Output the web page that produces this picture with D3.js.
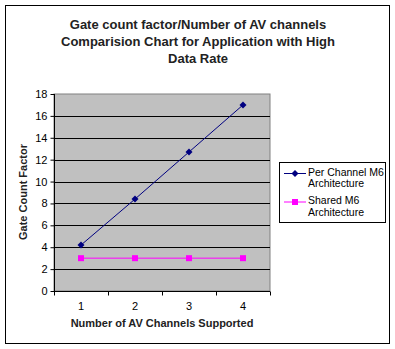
<!DOCTYPE html>
<html><head><meta charset="utf-8">
<script src="https://cdn.jsdelivr.net/npm/d3@7"></script>
<style>body{margin:0;background:#fff}svg{display:block}text{font-family:Arial,"Liberation Sans",sans-serif}</style>
</head><body><svg id="c" width="395" height="349"></svg>
<script>
const categories = ["1","2","3","4"];
const perChannel = [4.2, 8.4, 12.7, 17];
const shared = [3, 3, 3, 3];
const yTicks = [0,2,4,6,8,10,12,14,16,18];
const titleLines = ["Gate count factor/Number of AV channels","Comparision Chart for Application with High","Data Rate"];
const seriesNames = [["Per Channel M6","Architecture"],["Shared M6","Architecture"]];

const svg = d3.select("#c");
svg.append("rect").attr("x",5.5).attr("y",5.5).attr("width",384).attr("height",338).attr("fill","#fff").attr("stroke","#000");

const L=54,R=270,T=94,B=291;
const x = d3.scaleBand().domain(categories).range([L,R]);
const y = d3.scaleLinear().domain([0,18]).range([B,T]);

svg.append("g").selectAll("text").data(titleLines).join("text")
 .attr("x",198).attr("y",(d,i)=>29+i*17).attr("text-anchor","middle")
 .attr("font-size",13).attr("font-weight","bold").attr("fill","#222").text(d=>d);

svg.append("rect").attr("x",L).attr("y",T).attr("width",R-L).attr("height",B-T).attr("fill","#c0c0c0").attr("stroke","#808080");
svg.append("g").selectAll("line").data(yTicks.filter(d=>d>0&&d<18)).join("line")
 .attr("x1",L).attr("x2",R).attr("y1",d=>Math.round(y(d))+0.5).attr("y2",d=>Math.round(y(d))+0.5).attr("stroke","#000");

const ya = svg.append("g").attr("transform",`translate(${L+0.5},0)`)
 .call(d3.axisLeft(y).tickValues(yTicks).tickSize(4).tickPadding(3));
ya.select(".domain").attr("stroke","#000").attr("d",`M0,${T}V${B}`);
ya.selectAll("text").attr("font-size",11).attr("font-family","Arial").attr("fill","#000");

const xa = svg.append("g").attr("transform",`translate(0,${B+0.5})`);
xa.append("line").attr("x1",L).attr("x2",R).attr("stroke","#000");
xa.selectAll("line.t").data(categories.concat(["end"])).join("line").attr("class","t")
 .attr("x1",(d,i)=>Math.round(L+i*x.bandwidth())+0.5).attr("x2",(d,i)=>Math.round(L+i*x.bandwidth())+0.5)
 .attr("y1",0).attr("y2",4).attr("stroke","#000");
xa.selectAll("text").data(categories).join("text").attr("x",d=>x(d)+x.bandwidth()/2).attr("y",18)
 .attr("text-anchor","middle").attr("font-size",11).text(d=>d);

svg.append("text").attr("x",162).attr("y",327).attr("text-anchor","middle").attr("font-size",11).attr("font-weight","bold").attr("fill","#222").text("Number of AV Channels Supported");
svg.append("text").attr("transform","translate(27,192) rotate(-90)").attr("text-anchor","middle").attr("font-size",11).attr("font-weight","bold").attr("fill","#222").text("Gate Count Factor");

const diamond = "M0,-3.5L3.5,0L0,3.5L-3.5,0Z";
const cx = d=>x(d)+x.bandwidth()/2;
const line = d3.line().x((d,i)=>cx(categories[i])).y(d=>y(d));
svg.append("path").datum(shared).attr("d",line).attr("fill","none").attr("stroke","#ff00ff").attr("stroke-width",1);
svg.append("g").selectAll("rect").data(shared).join("rect")
 .attr("x",(d,i)=>cx(categories[i])-3).attr("y",d=>y(d)-3).attr("width",6).attr("height",6).attr("fill","#ff00ff");
svg.append("path").datum(perChannel).attr("d",line).attr("fill","none").attr("stroke","#000080").attr("stroke-width",1);
svg.append("g").selectAll("path.m").data(perChannel).join("path").attr("class","m")
 .attr("d",diamond).attr("transform",(d,i)=>`translate(${cx(categories[i])},${y(d)})`).attr("fill","#000080");

const lg = svg.append("g");
lg.append("rect").attr("x",279.5).attr("y",162.5).attr("width",106).attr("height",60).attr("fill","#fff").attr("stroke","#000");
const colors=["#000080","#ff00ff"];
seriesNames.forEach((nm,i)=>{
  const yy = 173.5+i*28.5;
  lg.append("line").attr("x1",284).attr("x2",306).attr("y1",yy).attr("y2",yy).attr("stroke",colors[i]);
  if(i===0) lg.append("path").attr("d",diamond).attr("transform",`translate(295,${yy})`).attr("fill",colors[i]);
  else lg.append("rect").attr("x",292).attr("y",yy-3).attr("width",6).attr("height",6).attr("fill",colors[i]);
  nm.forEach((t,j)=>lg.append("text").attr("x",308).attr("y",yy+2+j*11.5).attr("font-size",10.5).attr("fill","#000").text(t));
});
</script></body></html>
